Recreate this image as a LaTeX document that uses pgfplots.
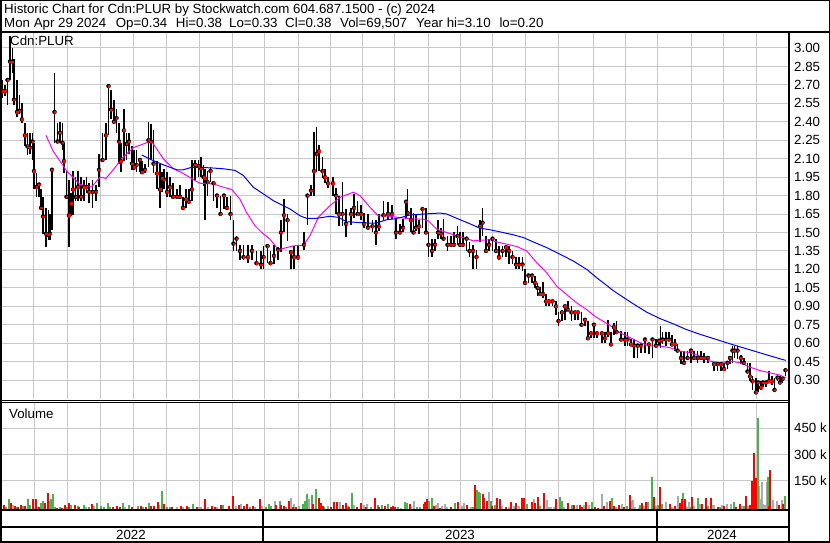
\documentclass[border=0pt]{standalone}
\usepackage{pgfplots}
\pgfplotsset{compat=1.18}
\usepackage{pgfplotstable}
\usepackage{fontspec}
\setmainfont{Liberation Sans}

\definecolor{gridc}{RGB}{200,200,200}
\definecolor{upgreen}{RGB}{76,178,76}
\definecolor{flatgray}{RGB}{170,170,170}
\definecolor{ma1}{RGB}{255,0,255}
\definecolor{ma2}{RGB}{0,0,255}

% daily bars (x = pixel position along the time axis), high / low / close
\pgfplotstableread{
x h l c
2.5 2.74 2.59 2.65
5 2.70 2.61 2.65
7.5 2.76 2.54 2.74
10 3.10 2.74 2.89
12.5 3.00 2.80 2.89
14 2.91 2.54 2.58
17 2.74 2.44 2.48
19.5 2.62 2.46 2.49
22 2.55 2.39 2.42
25 2.39 2.20 2.29
27.5 2.31 2.13 2.20
30 2.31 2.14 2.19
32.5 2.31 2.09 2.24
34 2.23 1.85 2.00
36.5 1.98 1.79 1.87
39 1.90 1.79 1.89
41 1.85 1.68 1.70
43 1.79 1.49 1.63
46 1.70 1.38 1.49
48.5 1.68 1.44 1.48
50 1.65 1.44 1.49
52 2.01 1.52 2.01
54.5 2.80 2.23 2.48
57.5 2.39 2.23 2.24
60 2.40 2.23 2.31
62.5 2.39 2.17 2.23
64 2.23 1.98 2.08
66.5 2.00 1.79 1.79
69 1.93 1.38 1.64
71 1.82 1.63 1.74
73 2.00 1.64 1.85
75.5 1.95 1.76 1.79
78 2.00 1.76 1.87
81 1.95 1.76 1.79
84 1.93 1.76 1.87
86.5 1.95 1.82 1.87
89 1.90 1.74 1.83
92.5 1.93 1.70 1.83
96 1.89 1.76 1.83
99 2.14 1.87 2.01
102.5 2.31 2.08 2.09
106 2.39 2.09 2.29
108.5 2.70 2.29 2.69
111 2.66 2.42 2.50
114 2.58 2.39 2.40
116.5 2.50 2.31 2.43
119 2.39 2.06 2.24
121 2.23 1.99 2.08
124 2.50 2.08 2.33
126.5 2.31 2.09 2.22
129 2.31 2.14 2.24
132 2.20 2.01 2.06
134 2.17 2.01 2.03
136.5 2.17 1.99 2.05
140 2.10 1.99 2.09
142 2.08 1.99 1.99
145 2.06 1.98 2.01
148.5 2.40 2.03 2.25
151 2.38 2.09 2.24
153.5 2.33 1.98 2.06
157 2.08 1.85 1.98
160 2.06 1.70 1.85
162 1.99 1.83 1.94
164 2.02 1.85 1.93
167 1.99 1.79 1.83
170 1.95 1.79 1.87
173 1.90 1.78 1.79
177 1.85 1.79 1.79
180 1.89 1.77 1.79
183 1.79 1.70 1.70
186 1.85 1.70 1.77
189 1.85 1.74 1.75
192 2.09 1.76 1.85
195 2.09 1.93 2.05
198.5 2.09 1.95 2.04
201 2.11 1.95 2.02
203.5 2.05 1.88 1.95
205 2.02 1.60 1.94
207.5 2.00 1.80 1.91
210.5 2.03 1.91 2.00
213.5 1.90 1.76 1.90
217 1.80 1.70 1.80
220.5 1.80 1.65 1.65
224 1.80 1.69 1.80
227 1.79 1.68 1.70
230.5 1.80 1.60 1.65
233.5 1.60 1.35 1.41
236.5 1.47 1.35 1.45
240 1.40 1.28 1.35
243.5 1.40 1.28 1.30
248 1.40 1.25 1.30
252 1.40 1.28 1.35
256.5 1.35 1.24 1.25
261 1.35 1.20 1.24
263.5 1.39 1.20 1.30
267.5 1.40 1.25 1.39
270.5 1.35 1.24 1.25
274 1.40 1.24 1.31
278 1.38 1.28 1.36
281 1.60 1.34 1.50
284 1.77 1.50 1.64
287.5 1.65 1.43 1.60
291 1.35 1.20 1.34
294 1.39 1.20 1.30
298 1.39 1.28 1.30
304 1.50 1.36 1.40
307.5 1.80 1.56 1.80
311 1.89 1.80 1.84
314 2.32 1.80 2.00
316.5 2.36 1.99 2.14
319 2.21 2.00 2.16
322.5 2.11 1.94 2.00
325 2.02 1.90 1.95
328 1.95 1.86 1.90
333 1.95 1.80 1.90
336 1.86 1.65 1.80
339 1.80 1.55 1.65
342.5 1.91 1.55 1.65
346 1.69 1.46 1.57
351 1.70 1.56 1.65
354 1.81 1.62 1.70
357.5 1.76 1.65 1.65
361 1.72 1.60 1.65
364 1.66 1.54 1.57
368 1.65 1.53 1.54
372.5 1.60 1.50 1.55
376 1.60 1.40 1.50
379 1.65 1.51 1.55
383.5 1.76 1.60 1.64
388 1.75 1.60 1.65
392 1.72 1.61 1.65
396 1.61 1.45 1.50
400 1.57 1.49 1.50
403 1.61 1.50 1.54
406 1.76 1.61 1.75
407.5 1.85 1.65 1.66
411 1.70 1.50 1.60
413.5 1.66 1.50 1.50
416 1.64 1.51 1.54
419 1.60 1.49 1.55
422.5 1.69 1.54 1.69
426 1.70 1.50 1.50
428.5 1.50 1.30 1.40
432 1.45 1.30 1.35
435 1.45 1.35 1.40
438 1.60 1.45 1.50
441 1.54 1.45 1.49
443.5 1.61 1.45 1.45
447.5 1.47 1.35 1.40
451 1.47 1.39 1.40
454 1.50 1.40 1.40
457.5 1.55 1.40 1.47
460 1.50 1.40 1.40
463 1.50 1.39 1.40
466.5 1.46 1.35 1.45
469.5 1.42 1.30 1.35
473 1.40 1.20 1.35
476.5 1.36 1.20 1.30
480 1.60 1.42 1.55
482.5 1.70 1.47 1.58
486 1.47 1.35 1.35
489 1.45 1.35 1.40
492.5 1.45 1.35 1.45
496 1.45 1.35 1.35
499 1.39 1.28 1.30
502.5 1.39 1.30 1.35
506 1.39 1.30 1.38
509 1.39 1.24 1.35
512.5 1.35 1.24 1.30
516 1.30 1.20 1.24
519 1.30 1.20 1.24
522.5 1.30 1.19 1.24
525 1.20 1.09 1.09
528.5 1.15 1.09 1.15
532 1.15 1.09 1.15
535 1.15 1.05 1.09
537.5 1.09 0.98 1.05
540 1.06 0.98 1.00
543 1.10 0.97 1.00
546 1.00 0.90 0.94
549 0.94 0.90 0.94
552.5 0.94 0.90 0.94
556 0.94 0.83 0.90
558.5 0.85 0.74 0.78
562 0.87 0.78 0.85
565 0.90 0.79 0.90
568 0.94 0.85 0.87
571.5 0.90 0.78 0.85
575 0.85 0.79 0.85
578 0.85 0.79 0.85
581.5 0.85 0.74 0.75
585 0.79 0.74 0.79
588 0.78 0.64 0.64
591 0.69 0.64 0.68
594 0.75 0.64 0.75
597 0.69 0.64 0.68
602 0.69 0.60 0.68
605 0.69 0.60 0.64
608 0.79 0.65 0.68
611 0.69 0.58 0.59
614 0.76 0.67 0.73
616.5 0.78 0.69 0.69
621 0.70 0.63 0.63
625 0.69 0.58 0.63
627.5 0.69 0.58 0.63
631 0.63 0.58 0.59
634 0.63 0.48 0.58
637.5 0.59 0.48 0.58
641 0.59 0.52 0.58
645 0.63 0.52 0.63
649 0.59 0.51 0.59
652.5 0.63 0.48 0.63
656 0.63 0.58 0.58
659 0.63 0.58 0.62
660.5 0.74 0.56 0.62
662.5 0.69 0.59 0.63
666 0.69 0.58 0.63
669 0.69 0.63 0.63
672 0.67 0.58 0.59
675 0.63 0.54 0.59
677.5 0.59 0.54 0.54
681 0.54 0.43 0.48
684 0.54 0.44 0.44
687.5 0.54 0.48 0.48
691 0.54 0.44 0.54
694 0.54 0.48 0.48
697.5 0.54 0.44 0.48
701 0.54 0.47 0.48
704 0.52 0.44 0.48
708 0.48 0.44 0.48
714 0.44 0.37 0.43
717.5 0.44 0.37 0.43
721 0.44 0.37 0.43
724 0.44 0.37 0.39
727.5 0.44 0.39 0.44
730 0.48 0.43 0.48
732.5 0.58 0.44 0.54
734.5 0.58 0.48 0.54
737.5 0.58 0.47 0.54
741 0.50 0.43 0.48
744 0.48 0.43 0.44
747.5 0.44 0.36 0.37
750 0.44 0.29 0.33
752.5 0.33 0.22 0.29
756 0.32 0.20 0.20
758 0.29 0.20 0.28
761 0.29 0.22 0.24
763 0.28 0.24 0.28
766 0.29 0.24 0.28
769 0.37 0.28 0.29
772 0.33 0.26 0.29
774.5 0.32 0.22 0.22
777.5 0.33 0.29 0.32
780 0.33 0.28 0.28
782.5 0.32 0.28 0.31
785.5 0.38 0.33 0.38
}\price

% short moving average (magenta)
\pgfplotstableread{
x v
46 2.29
53.3 2.16
66.7 2.00
80 1.89
91.7 1.87
100 1.95
106 1.94
113.3 2.01
121.7 2.10
133.3 2.19
146.7 2.23
151.7 2.24
163.3 2.10
173.3 2.02
183.3 1.98
193.3 1.93
200 1.90
213.3 1.895
223.3 1.868
231.7 1.85
240 1.77
246.7 1.66
255 1.555
261.7 1.50
270 1.446
278.3 1.36
286.7 1.377
293.3 1.391
303.3 1.397
310 1.473
318.3 1.623
330 1.718
340 1.786
353.3 1.827
360 1.80
370 1.705
378.3 1.636
390 1.632
400 1.62
413.3 1.61
423.3 1.609
428.3 1.595
436.7 1.527
446.7 1.50
456.7 1.473
466.7 1.45
473.3 1.432
480 1.437
490 1.44
496.7 1.423
506.7 1.405
516.7 1.386
526.7 1.35
536.7 1.255
546.7 1.173
556.7 1.064
566.7 0.995
576.7 0.927
586.7 0.873
595 0.818
603.3 0.777
610 0.745
620 0.685
630 0.645
640 0.604
650 0.577
660 0.577
670 0.563
680 0.536
690 0.522
700 0.495
710 0.454
720 0.441
730 0.454
740 0.441
750 0.405
760 0.377
770 0.359
780 0.34
785.7 0.318
}\maA

% long moving average (blue)
\pgfplotstableread{
x v
141.7 2.13
151.7 2.09
163.3 2.05
176.7 2.01
183.3 2.01
191.7 2.03
200 2.03
213.3 2.024
223.3 2.018
235 2.005
243.3 1.964
253.3 1.868
263.3 1.814
273.3 1.759
283.3 1.718
290 1.691
300 1.636
306.7 1.615
316.7 1.615
330 1.632
338.3 1.623
346.7 1.587
356.7 1.582
366.7 1.577
376.7 1.577
386.7 1.604
393.3 1.609
400 1.62
410 1.642
423.3 1.65
440 1.658
446.7 1.65
456.7 1.615
466.7 1.582
480 1.535
490 1.522
500 1.505
513.3 1.481
523.3 1.459
533.3 1.423
546.7 1.377
560 1.323
573.3 1.268
586.7 1.20
596.7 1.132
605 1.08
613.3 1.027
623.3 0.973
633.3 0.92
646.7 0.852
660 0.80
673.3 0.757
686.7 0.71
700 0.672
713.3 0.638
726.7 0.603
740 0.57
753.3 0.538
766.7 0.505
780 0.473
785.7 0.46
}\maB

% volume, down days
\pgfplotstableread{
x v
3.7 21000
11 31000
15 15000
18.5 11500
21 21000
25.3 15000
33.3 50000
36 50000
39 11500
45.3 31000
48 86000
57.3 6000
62 6000
65 21000
68.7 33000
75 21000
79.3 11500
91.7 27000
113.3 11500
116.7 17000
119.7 11500
131.7 10000
141 15000
146 11500
151 15000
154.3 15000
157.7 38000
163.7 27000
172.3 11500
181 15000
187 17000
196.7 11500
204.7 50000
211.7 15000
215 11500
221 21000
229 15000
233 66000
238.7 21000
244 17000
247 27000
252.7 17000
259.7 50000
276.3 21000
281 21000
284 17000
288.7 40000
292.5 11500
296.3 11500
313.3 27000
318.7 57000
320.7 33000
323.3 15000
330.7 11500
334 38000
336.7 38000
343.3 21000
345.8 33000
349 11500
356.7 11500
360.7 33000
365.7 11500
374.7 57000
378.8 11500
384.7 17000
390.7 11500
393.3 15000
395.3 11500
409.7 27000
424 27000
425.3 38000
427.3 50000
434 15000
440 6000
451 8000
457.7 38000
467.3 21000
474.7 126000
482.7 77000
484.3 60000
486.7 40000
492.3 15000
496.7 60000
500 50000
505.7 8000
511.3 38000
515.7 33000
522 56000
524.3 60000
531.7 38000
535 30000
537.7 63000
543.7 84000
556 52000
568.3 30000
573.7 21000
579.7 21000
581.7 12000
586.3 37000
595 12000
598.3 7000
603.7 16000
609.7 42000
614.3 16000
618.7 21000
624.3 9000
629.7 73000
642.3 31000
645.7 37000
653.7 63000
659.7 115000
669.7 26000
674.7 16000
679.7 31000
681.7 52000
684.7 52000
692.3 63000
702.3 26000
705.7 57000
711 57000
717.7 9000
724.3 16000
736 9000
739.7 26000
746.3 68000
749.7 21000
752.3 146000
754.3 293000
756 162000
769.3 16000
770.3 204000
779 21000
783 26000
}\volDown

% volume, up days
\pgfplotstableread{
x v
6 11500
8.7 50000
17.5 11500
22.7 15000
28 50000
30.3 21000
41.3 31000
43 44000
49 40000
51 50000
53 77000
54.7 11500
59.7 11500
66.7 8000
71.3 21000
77.7 17000
83.7 21000
89 11500
97.3 33000
100.7 17000
104.3 11500
107.7 33000
110 11500
123 33000
129 21000
137.7 15000
143.3 10000
149 33000
161.7 92000
167 11500
170 8000
189 8000
192.7 27000
223 21000
249.7 11500
265.7 11500
268.7 27000
271 15000
280 44000
286.3 8000
302.7 27000
304.7 44000
306.7 77000
312 71000
316 104000
324.3 11500
348 17000
352 81000
371 11500
377.7 21000
382 21000
388 27000
398.3 11500
404.7 38000
406.7 33000
416.7 11500
420 11500
428.7 44000
431.7 55000
455 33000
472.7 13000
476.7 98000
478.7 87000
480.3 81000
490.7 44000
495 21000
526.7 27000
540.3 16000
559.7 63000
562.3 42000
571.7 21000
592.3 37000
612.3 57000
626.7 16000
640.3 21000
647.7 37000
651.7 168000
657.7 21000
662.3 26000
682.7 84000
690.7 9000
697.7 57000
708.3 16000
719.7 9000
733.7 37000
743.7 16000
757.7 476000
767.7 168000
785 69507
}\volUp

% volume, unchanged days
\pgfplotstableread{
x v
1 11500
12.7 21000
37.3 11500
86.3 11500
94 17000
125.3 8000
159.3 21000
177 8000
183.3 11500
199.3 11500
201.3 11500
207.7 8000
217 11500
235.7 17000
241 27000
255.3 11500
262 15000
274.7 40000
290.8 60000
294.2 27000
299.3 17000
308.7 50000
327.7 15000
340 38000
354 21000
363.7 21000
366.7 27000
401.3 6000
411.3 11500
413.7 44000
436 21000
438 33000
442 17000
444.7 27000
447.3 11500
462 17000
464.3 33000
470.7 11500
488.7 87000
502 17000
509 11500
513.7 17000
518.7 17000
533.7 50000
547 47000
549 12000
551 12000
554 9000
564.3 9000
577 21000
584.3 21000
589 21000
601.7 78000
607 37000
616.3 9000
621.7 26000
631 42000
633 47000
635 12000
639 9000
643.7 16000
655.7 16000
665.7 37000
671.7 12000
677.7 68000
685.7 16000
687.7 9000
688.7 37000
694.3 16000
700.3 26000
713 21000
714.3 21000
722.3 21000
727 26000
731.3 26000
735 12000
741.7 16000
747.7 16000
759 120000
761 52000
761.7 141000
763.3 26000
765 21000
766.7 141000
773 47000
777 42000
781.7 47000
}\volFlat

\pgfplotsset{
  panel/.style={
    scale only axis, width=787pt, xmin=2, xmax=789,
    axis line style={draw=none}, major tick length=0pt,
    xtick={34,67,100,133,166,199,232,264,298,330,362,394,428,460,492,525,558,593,625,657,691,723,756},
    xticklabels={},
    grid=major, major grid style={gridc, line width=1pt},
    yticklabel pos=right,
    yticklabel style={anchor=west, inner sep=0pt, xshift=5pt,
      font=\fontsize{13.3}{15}\selectfont},
  },
}

\begin{document}
\begin{tikzpicture}[font=\fontsize{13.3}{15}\selectfont]
\useasboundingbox (0pt,0pt) rectangle (830pt,543pt);

% price panel
\begin{axis}[panel, at={(2pt,143.5pt)}, anchor=south west, height=366.5pt,
    ymin=0.142, ymax=3.122,
    ytick={0.30,0.45,0.60,0.75,0.90,1.05,1.20,1.35,1.50,1.65,1.80,1.95,2.10,2.25,2.40,2.55,2.70,2.85,3.00},
    yticklabel style={/pgf/number format/fixed, /pgf/number format/fixed zerofill,
      /pgf/number format/precision=2, /pgf/number format/assume math mode=true}]
\addplot[only marks, mark=none, forget plot,
    error bars/.cd, y dir=both, y explicit, error mark=none,
    error bar style={draw=black, line width=1.7pt}]
  table[x=x, y=c, y error plus expr=\thisrow{h}-\thisrow{c},
        y error minus expr=\thisrow{c}-\thisrow{l}] {\price};
\addplot[only marks, mark=square*, mark size=0.75pt, color=red, mark options={draw=none, fill=red}]
  table[x=x, y=c] {\price};
\addplot[ma1, line width=1pt] table[x=x, y=v] {\maA};
\addplot[ma2, line width=1pt] table[x=x, y=v] {\maB};
\end{axis}

% volume panel
\begin{axis}[panel, at={(2pt,34pt)}, anchor=south west, height=107pt,
    ymin=0, ymax=559000, scaled y ticks=false,
    ytick={150000,286000,422000}, yticklabels={150 k,300 k,450 k}]
\addplot[ycomb, flatgray, line width=2pt, mark=none] table[x=x, y=v] {\volFlat};
\addplot[ycomb, upgreen, line width=2pt, mark=none] table[x=x, y=v] {\volUp};
\addplot[ycomb, red, line width=2pt, mark=none] table[x=x, y=v] {\volDown};
\end{axis}

\begin{scope}[x=1pt, y=1pt]
% frame
\draw[line width=1.5pt] (0.75,0.75) rectangle (829.25,542.25);
\draw[line width=1.5pt] (0,511) -- (830,511);
\draw[line width=2pt] (789,0) -- (789,511);
\draw[line width=1pt] (0,142.5) -- (789,142.5);
\draw[line width=1pt] (0,140.3) -- (789,140.3);
\draw[line width=2pt] (0,33) -- (789,33);
\draw[line width=2pt] (0,15.5) -- (789,15.5);
\draw[line width=1.5pt] (263,1) -- (263,33);
\draw[line width=1.5pt] (657,1) -- (657,33);

% texts
\node[anchor=base west, inner sep=0pt] at (4,529.5) {Historic Chart for Cdn:PLUR by Stockwatch.com 604.687.1500 - (c) 2024};
\node[anchor=base west, inner sep=0pt] at (4,515) {Mon Apr 29 2024};
\node[anchor=base west, inner sep=0pt] at (115.7,515) {Op=0.34};
\node[anchor=base west, inner sep=0pt] at (175.7,515) {Hi=0.38};
\node[anchor=base west, inner sep=0pt] at (229,515) {Lo=0.33};
\node[anchor=base west, inner sep=0pt] at (285,515) {Cl=0.38};
\node[anchor=base west, inner sep=0pt] at (340,515) {Vol=69,507};
\node[anchor=base west, inner sep=0pt] at (416,515) {Year hi=3.10};
\node[anchor=base west, inner sep=0pt] at (499.3,515) {lo=0.20};
\node[anchor=base west, inner sep=0pt] at (10,497) {Cdn:PLUR};
\node[anchor=base west, inner sep=0pt] at (9,124.7) {Volume};
\node[anchor=base, inner sep=0pt] at (131,3.5) {2022};
\node[anchor=base, inner sep=0pt] at (460,3.5) {2023};
\node[anchor=base, inner sep=0pt] at (722,3.5) {2024};
\end{scope}
\end{tikzpicture}
\end{document}
